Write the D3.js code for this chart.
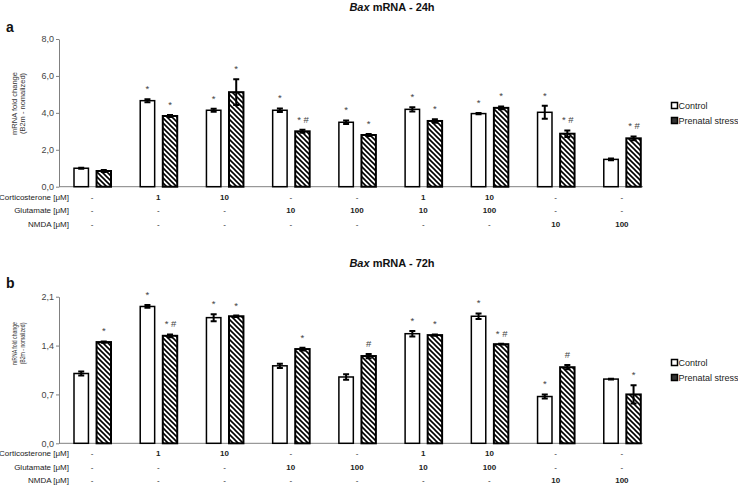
<!DOCTYPE html>
<html>
<head>
<meta charset="utf-8">
<script src="https://cdn.jsdelivr.net/npm/d3@7"></script>
<style>
  body { margin: 0; background: #fff; }
  svg { display: block; font-family: "Liberation Sans", Arial, sans-serif; }
</style>
</head>
<body>
<svg id="chart" width="738" height="488"></svg>
<script>
// ---------- DATA ----------
const groups = ["g1","g2","g3","g4","g5","g6","g7","g8","g9"];
const series = ["Control", "Prenatal stress"];
const corticosterone = ["-","1","10","-","-","1","10","-","-"];
const glutamate      = ["-","-","-","10","100","10","100","-","-"];
const nmda           = ["-","-","-","-","-","-","-","10","100"];

// 24h
const ctrl24    = [1.00, 4.66, 4.14, 4.14, 3.49, 4.19, 3.96, 4.03, 1.48];
const ctrl24Err = [0.03, 0.08, 0.08, 0.10, 0.10, 0.12, 0.03, 0.35, 0.05];
const ps24      = [0.85, 3.83, 5.12, 3.00, 2.80, 3.56, 4.27, 2.87, 2.62];
const ps24Err   = [0.05, 0.05, 0.70, 0.08, 0.05, 0.10, 0.08, 0.18, 0.10];
const ctrl24Sig = ["", "*", "*", "*", "*", "*", "*", "*", ""];
const ps24Sig   = ["", "*", "*", "* #", "*", "*", "*", "* #", "* #"];
const ticks24   = [0, 2, 4, 6, 8];

// 72h
const ctrl72    = [1.00, 1.96, 1.80, 1.11, 0.95, 1.57, 1.82, 0.67, 0.92];
const ctrl72Err = [0.03, 0.02, 0.05, 0.03, 0.04, 0.04, 0.04, 0.03, 0.005];
const ps72      = [1.45, 1.54, 1.82, 1.35, 1.25, 1.55, 1.42, 1.09, 0.70];
const ps72Err   = [0.01, 0.02, 0.01, 0.02, 0.03, 0.01, 0.005, 0.03, 0.13];
const ctrl72Sig = ["", "*", "*", "", "", "*", "*", "*", ""];
const ps72Sig   = ["*", "* #", "*", "*", "#", "*", "* #", "#", "*"];
const ticks72   = [0, 0.7, 1.4, 2.1];

const panels = [
  { letter: "a", time: "24h", ctrl: ctrl24, ctrlErr: ctrl24Err, ps: ps24, psErr: ps24Err,
    ctrlSig: ctrl24Sig, psSig: ps24Sig, ticks: ticks24, max: 8, y0: 186.7, y1: 39, top: 0,
    labelY: 103.5, labelLen: 63 },
  { letter: "b", time: "72h", ctrl: ctrl72, ctrlErr: ctrl72Err, ps: ps72, psErr: ps72Err,
    ctrlSig: ctrl72Sig, psSig: ps72Sig, ticks: ticks72, max: 2.1, y0: 443.3, y1: 296.7, top: 256,
    labelY: 343.5, labelLen: 43 }
];

// ---------- DRAW ----------
const svg = d3.select("#chart");
const defs = svg.append("defs");
const pat = defs.append("pattern").attr("id", "hatch")
  .attr("patternUnits", "userSpaceOnUse").attr("width", 5).attr("height", 5);
pat.append("rect").attr("width", 5).attr("height", 5).attr("fill", "#fff");
pat.append("path").attr("d", "M0,0L5,5M-1,4L1,6M4,-1L6,1")
  .attr("stroke", "#000").attr("stroke-width", 1.6);

const axisLeft = 59, axisRight = 643;
const x0 = d3.scaleBand().domain(groups).range([axisLeft, 655]).paddingInner(0).paddingOuter(0);
const x1 = d3.scaleBand().domain(series).range([15, 52]).paddingInner(0.36).paddingOuter(0);
const fmt = d => d3.format(".1f")(d).replace(".", ",");

panels.forEach(p => {
  const y = d3.scaleLinear().domain([0, p.max]).range([p.y0, p.y1]);
  const g = svg.append("g");

  // panel letter
  g.append("text").attr("x", 6).attr("y", p.top + 32)
    .attr("font-size", 14).attr("font-weight", "bold").attr("fill", "#111").text(p.letter);

  // title
  const t = g.append("text").attr("x", 392).attr("y", p.top + 11)
    .attr("text-anchor", "middle").attr("font-size", 11).attr("font-weight", "bold").attr("fill", "#111");
  t.append("tspan").attr("font-style", "italic").text("Bax");
  t.append("tspan").text(" mRNA - " + p.time);

  // y axis
  const ya = g.append("g").attr("transform", `translate(${axisLeft},0)`)
    .call(d3.axisLeft(y).tickValues(p.ticks).tickFormat(fmt).tickSize(3).tickPadding(2).tickSizeOuter(0));
  ya.select(".domain").attr("stroke", "#808080");
  ya.selectAll(".tick line").attr("stroke", "#808080");
  ya.selectAll(".tick text").attr("font-size", 9).attr("fill", "#444")
    .attr("font-family", "Liberation Sans, Arial, sans-serif");

  // x axis line
  g.append("line").attr("x1", axisLeft).attr("x2", axisRight)
    .attr("y1", p.y0).attr("y2", p.y0).attr("stroke", "#808080").attr("stroke-width", 1);

  // y label
  const yl = g.append("text").attr("transform", `translate(17,${p.labelY}) rotate(-90)`)
    .attr("text-anchor", "middle").attr("font-size", 7.5).attr("fill", "#333");
  yl.append("tspan").attr("x", 0).attr("dy", 0)
    .attr("textLength", p.labelLen).attr("lengthAdjust", "spacingAndGlyphs").text("mRNA fold change");
  yl.append("tspan").attr("x", 0).attr("dy", 7.5)
    .attr("textLength", p.labelLen * 0.97).attr("lengthAdjust", "spacingAndGlyphs").text("(B2m - nomalized)");

  // bars
  const rows = groups.map((gr, i) => ([
    { g: gr, s: series[0], v: p.ctrl[i], e: p.ctrlErr[i], sig: p.ctrlSig[i] },
    { g: gr, s: series[1], v: p.ps[i], e: p.psErr[i], sig: p.psSig[i] }
  ])).flat();

  const bars = g.append("g");
  rows.forEach(d => {
    const bx = x0(d.g) + x1(d.s);
    const bw = x1.bandwidth();
    const isPS = d.s === series[1];
    bars.append("rect")
      .attr("x", bx).attr("y", y(d.v)).attr("width", bw).attr("height", y(0) - y(d.v))
      .attr("fill", isPS ? "url(#hatch)" : "#fff")
      .attr("stroke", "#000").attr("stroke-width", isPS ? 2 : 1.5);
    const cx = bx + bw / 2;
    const yt = y(d.v + d.e), yb = y(d.v - d.e);
    bars.append("path")
      .attr("d", `M${cx},${yt}L${cx},${yb}M${cx-3},${yt}L${cx+3},${yt}M${cx-3},${yb}L${cx+3},${yb}`)
      .attr("stroke", "#000").attr("stroke-width", 2).attr("fill", "none");
    if (d.sig) {
      bars.append("text").attr("x", cx + (d.sig.length > 1 ? 0.5 : 0)).attr("y", yt - 7)
        .attr("text-anchor", "middle").attr("font-size", 9.5).attr("fill", "#444")
        .text(d.sig);
    }
  });

  // treatment table
  const labels = [["Corticosterone [μM]", corticosterone, 10],
                  ["Glutamate [μM]", glutamate, 23.7],
                  ["NMDA [μM]", nmda, 37]];
  labels.forEach(([name, vals, dy]) => {
    const yy = p.y0 + dy;
    g.append("text").attr("x", 69).attr("y", yy).attr("dy", "0.35em")
      .attr("text-anchor", "end").attr("font-size", 8).attr("fill", "#222").text(name);
    vals.forEach((v, i) => {
      g.append("text").attr("x", x0(groups[i]) + x0.bandwidth() / 2).attr("y", yy).attr("dy", "0.35em")
        .attr("text-anchor", "middle").attr("font-size", 8)
        .attr("font-weight", v === "-" ? "normal" : "bold").attr("fill", "#222").text(v);
    });
  });

  // legend
  const legY = p.top + (p.letter === "a" ? 106 : 107);
  series.forEach((s, i) => {
    const yy = legY + i * 15;
    g.append("rect").attr("x", 671.5).attr("y", yy - 3.5).attr("width", 6).attr("height", 6)
      .attr("fill", i === 0 ? "#fff" : "#333").attr("stroke", "#000").attr("stroke-width", 1.5);
    g.append("text").attr("x", 678.5).attr("y", yy).attr("dy", "0.35em")
      .attr("font-size", 9).attr("fill", "#222").text(s);
  });
});
</script>
</body>
</html>
